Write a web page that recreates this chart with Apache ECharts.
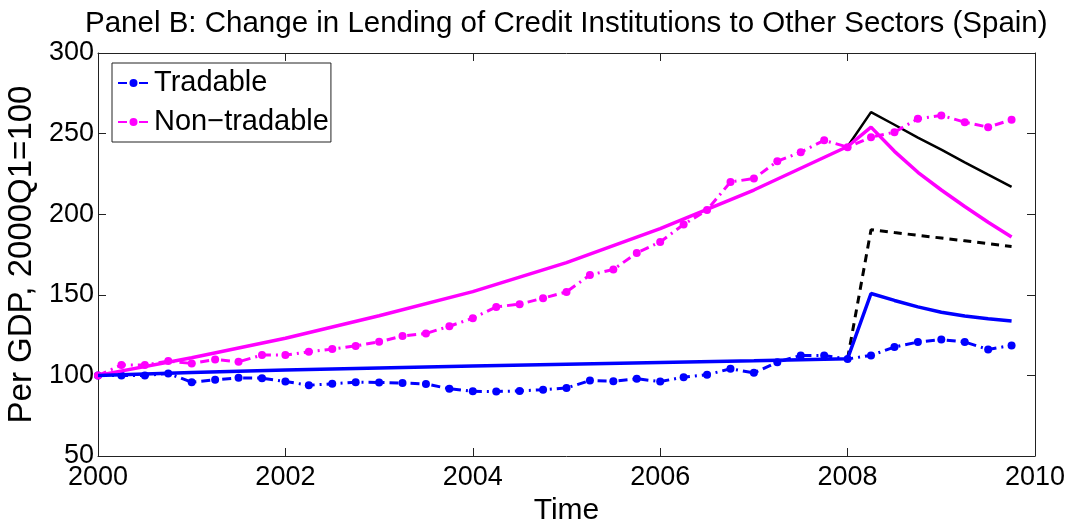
<!DOCTYPE html>
<html>
<head>
<meta charset="utf-8">
<script src="https://cdn.jsdelivr.net/npm/echarts@6/dist/echarts.min.js"></script>
<style>html,body{margin:0;padding:0;background:#fff;}#c{width:1073px;height:520px;}</style>
</head>
<body>
<div id="c"></div>
<script>
// Quarterly time points, 2000Q1 .. 2009Q4
const quarters = [2000,2000.25,2000.5,2000.75,2001,2001.25,2001.5,2001.75,2002,2002.25,2002.5,2002.75,
  2003,2003.25,2003.5,2003.75,2004,2004.25,2004.5,2004.75,2005,2005.25,2005.5,2005.75,
  2006,2006.25,2006.5,2006.75,2007,2007.25,2007.5,2007.75,2008,2008.25,2008.5,2008.75,
  2009,2009.25,2009.5,2009.75];
// Data (dash-dot with markers)
const tradable = [100,100,100,101.2,95.8,97.3,98.5,98.3,96.2,93.9,94.8,95.8,
  95.6,95.3,94.7,91.7,90.1,90,90.4,91.1,92.2,96.8,96.4,97.9,
  96.2,98.9,100.4,104.1,101.6,108.2,112.4,112.4,110.2,112.4,117.6,120.7,
  122.2,120.7,116.1,118.6];
const nonTradable = [100,106.4,106.4,108.9,107.4,109.9,108.4,112.6,112.6,114.6,116.3,118.3,
  120.8,124.5,126,130.5,135.5,142.5,144.2,147.9,151.8,162.3,165.7,176,
  182.8,193.6,202.6,220,222.1,232.8,238.5,245.8,241.6,247.8,250.9,259.2,
  261.3,257.1,254,258.6];
// Model lines (solid / dashed)
const modelX = [2000,2001,2002,2003,2004,2005,2006,2007,2008,2008.25,2008.5,2008.75,2009,2009.25,2009.5,2009.75];
const tradableModel = [100,101.8,103.4,104.6,105.8,106.9,108,109.1,110.4,150.8,146.5,142.5,139.2,136.8,135.1,133.8];
const nonTradableModel = [100,111,123,137,152,170,191,215,242,254,239,226,215,204.8,195,185.9];
const shockX = [2008,2008.25,2008.5,2008.75,2009,2009.25,2009.5,2009.75];
const totalShock = [242,263.3,255.5,247.5,240,232.2,224.5,216.9];
const tradableShock = [110.4,190.4,188.6,186.9,185.2,183.5,181.7,180];
const xTicks = [2000,2002,2004,2006,2008,2010];
const yTicks = [50,100,150,200,250,300];

const pair = (xs, ys) => xs.map((x, i) => [x, ys[i]]);
const FONT = 'Liberation Sans, Arial, Helvetica, sans-serif';
const chart = echarts.init(document.getElementById('c'));
const axisCommon = {
  type: 'value',
  axisLine: {show: true, lineStyle: {color: '#222', width: 1}},
  axisTick: {show: true, inside: true, length: 8, lineStyle: {color: '#222'}},
  splitLine: {show: false}
};
chart.setOption({
  animation: false,
  backgroundColor: '#fff',
  title: {
    text: 'Panel B: Change in Lending of Credit Institutions to Other Sectors (Spain)',
    left: 80, top: 4,
    textStyle: {fontFamily: FONT, fontSize: 29.5, fontWeight: 'normal', color: '#000'}
  },
  grid: {left: 98, right: 38, top: 53, bottom: 64, show: false, containLabel: false, outerBoundsMode: 'none'},
  legend: {
    orient: 'vertical', left: 112, top: 63,
    data: ['Tradable', 'Non\u2212tradable'],
    itemWidth: 31, itemHeight: 10, itemGap: 9,
    padding: [5, 2, 5, 5],
    borderColor: '#222', borderWidth: 1, backgroundColor: '#fff',
    textStyle: {fontFamily: FONT, fontSize: 29, lineHeight: 30, color: '#000'}
  },
  xAxis: [
    Object.assign({}, axisCommon, {
      position: 'bottom', min: xTicks[0], max: xTicks[xTicks.length - 1], interval: 2,
      name: 'Time', nameLocation: 'middle', nameGap: 27,
      nameTextStyle: {fontFamily: FONT, fontSize: 30, color: '#000'},
      axisLabel: {fontFamily: FONT, fontSize: 27, color: '#000', margin: 8, formatter: v => String(v)}
    }),
    Object.assign({}, axisCommon, {
      position: 'top', min: xTicks[0], max: xTicks[xTicks.length - 1], interval: 2,
      axisLabel: {show: false}
    })
  ],
  yAxis: [
    Object.assign({}, axisCommon, {
      position: 'left', min: yTicks[0], max: yTicks[yTicks.length - 1], interval: 50,
      name: 'Per GDP, 2000Q1=100', nameLocation: 'middle', nameGap: 54,
      nameTextStyle: {fontFamily: FONT, fontSize: 33, color: '#000'},
      axisLabel: {fontFamily: FONT, fontSize: 27, color: '#000', margin: 4, formatter: v => String(v)}
    }),
    Object.assign({}, axisCommon, {
      position: 'right', min: yTicks[0], max: yTicks[yTicks.length - 1], interval: 50,
      axisLabel: {show: false}
    })
  ],
  series: [
    {
      name: 'Tradable', type: 'line', data: pair(quarters, tradable),
      symbol: 'circle', symbolSize: 8, showSymbol: true,
      itemStyle: {color: '#0000ff'},
      lineStyle: {color: '#0000ff', width: 3, type: [9, 5, 2, 5]}, z: 3
    },
    {
      name: 'Non\u2212tradable', type: 'line', data: pair(quarters, nonTradable),
      symbol: 'circle', symbolSize: 8, showSymbol: true,
      itemStyle: {color: '#ff00ff'},
      lineStyle: {color: '#ff00ff', width: 3, type: [9, 5, 2, 5]}, z: 3
    },
    {
      name: 'Total (model)', type: 'line', data: pair(shockX, totalShock),
      symbol: 'none', lineStyle: {color: '#000', width: 2.5}, z: 2
    },
    {
      name: 'Tradable (shock)', type: 'line', data: pair(shockX, tradableShock),
      symbol: 'none', lineStyle: {color: '#000', width: 3, type: [8, 6]}, z: 2
    },
    {
      name: 'Non\u2212tradable (model)', type: 'line', data: pair(modelX, nonTradableModel),
      symbol: 'none', lineStyle: {color: '#ff00ff', width: 3.5}, z: 4
    },
    {
      name: 'Tradable (model)', type: 'line', data: pair(modelX, tradableModel),
      symbol: 'none', lineStyle: {color: '#0000ff', width: 3.5}, z: 4
    }
  ]
});
</script>
</body>
</html>
